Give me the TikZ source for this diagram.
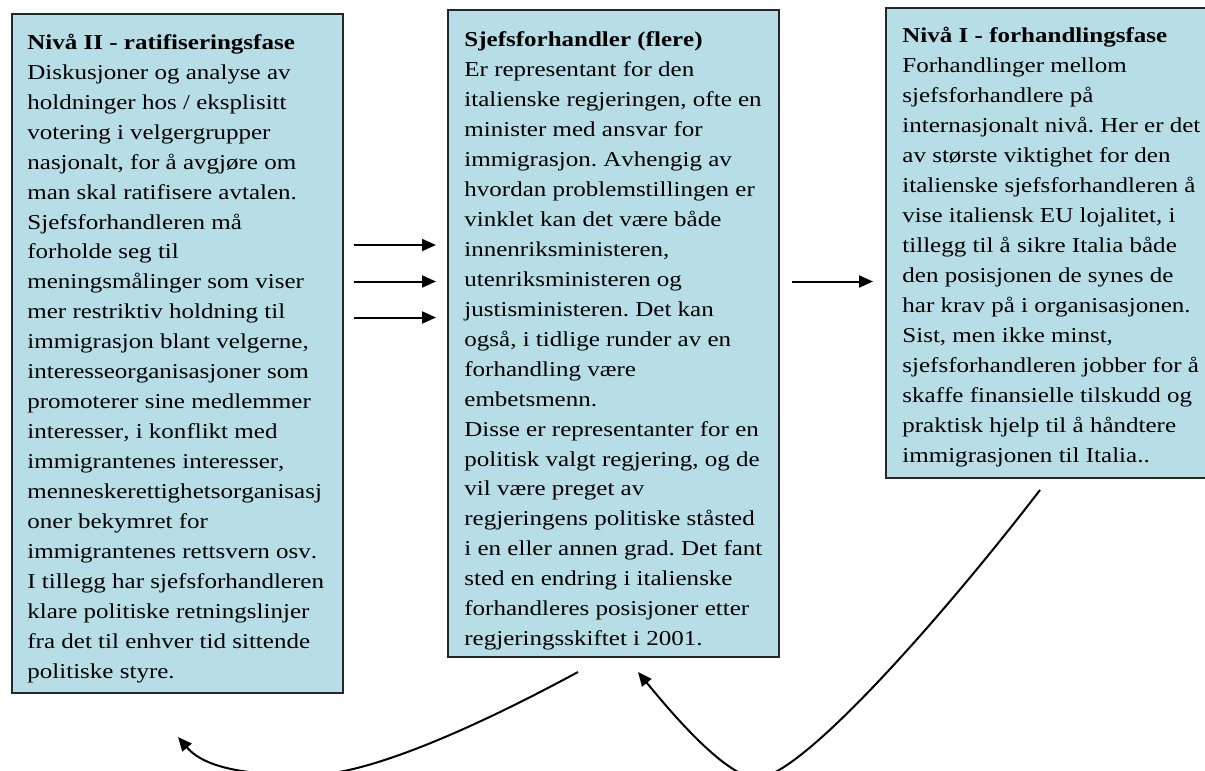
\documentclass[tikz,border=0pt]{standalone}
\usepackage{fontspec}
\setmainfont{Liberation Serif}[FakeStretch=1.18, Kerning=Off]
\usetikzlibrary{arrows.meta}
\definecolor{boxblue}{RGB}{183,222,230}
\tikzset{%
    box/.style={rectangle, draw=black!85, line width=0.8pt, fill=boxblue, anchor=north west, minimum width=165.5pt, inner sep=0pt},
    txt/.style={anchor=north west, align=left, inner sep=0pt, font=\fontsize{10.6pt}{14.97pt}\selectfont\frenchspacing},
    arr/.style={line width=1pt, -{Triangle[length=7pt,width=6pt]}},
}
\begin{document}
\begin{tikzpicture}[x=0.5pt,y=-0.5pt]
    \useasboundingbox (0,0) rectangle (1205,771);
    % boxes
    \node [box, minimum height=339.5pt] (lvl2) at (11,13) {};
    \node [box, minimum height=323.5pt] (neg) at (447,9) {};
    \node [box, minimum height=235pt, minimum width=165pt] (lvl1) at (885,7) {};
    % texts
    \node [txt] (lvl2txt) at (27,28) {\strut\textbf{Nivå II - ratifiseringsfase}\\
        Diskusjoner og analyse av\\
        holdninger hos / eksplisitt\\
        votering i velgergrupper\\
        nasjonalt, for å avgjøre om\\
        man skal ratifisere avtalen.\\
        Sjefsforhandleren må\\
        forholde seg til\\
        meningsmålinger som viser\\
        mer restriktiv holdning til\\
        immigrasjon blant velgerne,\\
        interesseorganisasjoner som\\
        promoterer sine medlemmer\\
        interesser, i konflikt med\\
        immigrantenes interesser,\\
        menneskerettighetsorganisasj\\
        oner bekymret for\\
        immigrantenes rettsvern osv.\\
        I tillegg har sjefsforhandleren\\
        klare politiske retningslinjer\\
        fra det til enhver tid sittende\\
        politiske styre.};
    \node [txt] (negtxt) at (464,25.5) {\strut\textbf{Sjefsforhandler (flere)}\\
        Er representant for den\\
        italienske regjeringen, ofte en\\
        minister med ansvar for\\
        immigrasjon. Avhengig av\\
        hvordan problemstillingen er\\
        vinklet kan det være både\\
        innenriksministeren,\\
        utenriksministeren og\\
        justisministeren. Det kan\\
        også, i tidlige runder av en\\
        forhandling være\\
        embetsmenn.\\
        Disse er representanter for en\\
        politisk valgt regjering, og de\\
        vil være preget av\\
        regjeringens politiske ståsted\\
        i en eller annen grad. Det fant\\
        sted en endring i italienske\\
        forhandleres posisjoner etter\\
        regjeringsskiftet i 2001.};
    \node [txt] (lvl1txt) at (902,21.5) {\strut\textbf{Nivå I - forhandlingsfase}\\
        Forhandlinger mellom\\
        sjefsforhandlere på\\
        internasjonalt nivå. Her er det\\
        av største viktighet for den\\
        italienske sjefsforhandleren å\\
        vise italiensk EU lojalitet, i\\
        tillegg til å sikre Italia både\\
        den posisjonen de synes de\\
        har krav på i organisasjonen.\\
        Sist, men ikke minst,\\
        sjefsforhandleren jobber for å\\
        skaffe finansielle tilskudd og\\
        praktisk hjelp til å håndtere\\
        immigrasjonen til Italia..};
    % straight arrows
    \coordinate (r1) at (0,245);
    \coordinate (r2) at (0,281.5);
    \coordinate (r3) at (0,317.5);
    \draw [arr, shorten <=5pt, shorten >=5.5pt] (lvl2.east |- r1) -- (neg.west |- r1);
    \draw [arr, shorten <=5pt, shorten >=5.5pt] (lvl2.east |- r2) -- (neg.west |- r2);
    \draw [arr, shorten <=5pt, shorten >=5.5pt] (lvl2.east |- r3) -- (neg.west |- r3);
    \draw [arr, shorten <=6pt, shorten >=6pt] (neg.east |- r2) -- (lvl1.west |- r2);
    % curved arrows
    \coordinate (negout) at (578,672);
    \coordinate (lvl2in) at (178,737);
    \coordinate (lvl1out) at (1040,490);
    \coordinate (negin) at (638,672);
    \draw [arr] (negout) .. controls (480,725) and (370,775) .. (310,775)
        .. controls (262,775) and (208,772) .. (lvl2in);
    \draw [arr] (lvl1out) .. controls (940,620) and (800,778) .. (757,778)
        .. controls (725,778) and (665,705) .. (negin);
\end{tikzpicture}
\end{document}
